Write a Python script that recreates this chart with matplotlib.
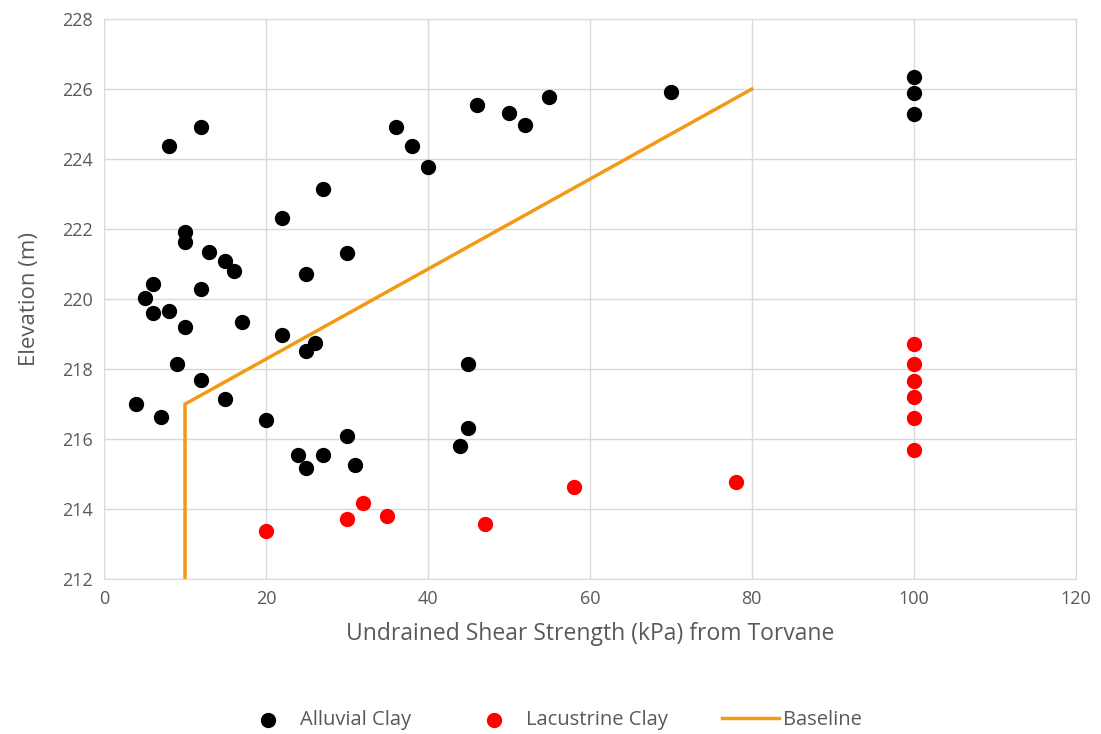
import matplotlib.pyplot as plt

plt.rcParams['font.family'] = ['Open Sans', 'DejaVu Sans']

# Alluvial Clay (kPa, m)
alluvial_x = [8, 12, 10, 10, 13, 15, 16, 6, 5, 12, 6, 8, 10, 17, 9, 12, 4, 7, 15, 20,
              22, 27, 25, 30, 22, 26, 25, 24, 25, 27, 30, 31,
              36, 38, 40, 46, 50, 52, 55, 70, 100, 100, 100, 45, 45, 44]
alluvial_y = [224.37, 224.91, 221.93, 221.63, 221.34, 221.09, 220.8, 220.43, 220.03, 220.29,
              219.6, 219.66, 219.2, 219.36, 218.14, 217.69, 217.0, 216.63, 217.14, 216.54,
              222.31, 223.14, 220.71, 221.31, 218.97, 218.74, 218.51, 215.54, 215.17, 215.54,
              216.09, 215.26, 224.91, 224.37, 223.77, 225.54, 225.31, 224.97, 225.77, 225.91,
              226.34, 225.89, 225.29, 218.14, 216.31, 215.8]

# Lacustrine Clay
lacustrine_x = [20, 30, 32, 35, 47, 58, 78, 100, 100, 100, 100, 100, 100]
lacustrine_y = [213.37, 213.71, 214.17, 213.8, 213.57, 214.63, 214.77,
                218.73, 218.14, 217.66, 217.2, 216.6, 215.69]

# Baseline
baseline_x = [10, 10, 80]
baseline_y = [212, 217, 226]

fig = plt.figure(figsize=(11.01, 7.34), dpi=100)
ax = fig.add_axes([0.0945, 0.211, 0.8825, 0.763])

ax.scatter(alluvial_x, alluvial_y, s=100, color='black', label='Alluvial Clay', zorder=3)
ax.scatter(lacustrine_x, lacustrine_y, s=100, color='#FF0000', label='Lacustrine Clay', zorder=3)
ax.plot(baseline_x, baseline_y, color='#F39A12', linewidth=2.5, label='Baseline', zorder=2)

ax.set_xlim(0, 120)
ax.set_ylim(212, 228)
ax.set_xticks(range(0, 121, 20))
ax.set_yticks(range(212, 229, 2))
ax.grid(True, color='#D9D9D9', linewidth=1)
ax.set_axisbelow(True)
for s in ax.spines.values():
    s.set_color('#D9D9D9')
ax.tick_params(length=0, colors='#595959', labelsize=13, pad=8)

ax.set_xlabel('Undrained Shear Strength (kPa) from Torvane', fontsize=16.5, color='#595959', labelpad=10)
ax.set_ylabel('Elevation (m)', fontsize=16, color='#595959', labelpad=16)

fig.legend(loc='center', bbox_to_anchor=(0.5, 14 / 734), ncol=3, frameon=False,
           fontsize=14.5, labelcolor='#595959', handlelength=2.8, handletextpad=0.2,
           columnspacing=2.7)

plt.savefig('out.png', dpi=100)
